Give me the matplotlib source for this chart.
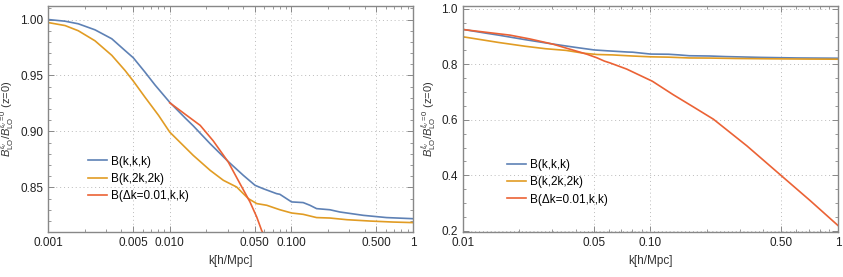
import numpy as np
import matplotlib
matplotlib.use("Agg")
import matplotlib.pyplot as plt
from matplotlib.ticker import FixedLocator, FixedFormatter, MultipleLocator

plt.rcParams['font.family'] = ['Liberation Sans', 'DejaVu Sans']
plt.rcParams['mathtext.fontset'] = 'custom'
plt.rcParams['mathtext.rm'] = 'Liberation Sans'
plt.rcParams['mathtext.it'] = 'Liberation Sans:italic'

# B(k,k,k) ratio
k_eq = [0.001, 0.00138, 0.00177, 0.00243, 0.00334, 0.00429, 0.00502, 0.00626,
        0.00757, 0.01, 0.0134, 0.0156, 0.0215, 0.0303, 0.0403, 0.0503, 0.0587,
        0.0755, 0.0804, 0.1003, 0.125, 0.142, 0.161, 0.207, 0.25, 0.39, 0.605, 1.0]
b_eq = [1.000, 0.9985, 0.9962, 0.9908, 0.9828, 0.9723, 0.9658, 0.953,
        0.9415, 0.926, 0.912, 0.905, 0.889, 0.873, 0.8607, 0.8518, 0.8488,
        0.8444, 0.8438, 0.837, 0.8364, 0.834, 0.831, 0.830, 0.828, 0.825, 0.823, 0.822]

# B(k,2k,2k)
k_iso = [0.001, 0.00138, 0.00177, 0.00243, 0.00334, 0.00429, 0.00502, 0.00626,
         0.0081, 0.01, 0.0156, 0.0215, 0.0276, 0.0355, 0.0442, 0.0519, 0.0627,
         0.0755, 0.0804, 0.1003, 0.125, 0.161, 0.207, 0.286, 0.443, 0.687, 1.0]
b_iso = [0.9973, 0.9946, 0.990, 0.981, 0.968, 0.9545, 0.945, 0.9306,
         0.9143, 0.8994, 0.8786, 0.8652, 0.8563, 0.8503, 0.840, 0.8355, 0.834,
         0.831, 0.830, 0.8271, 0.8259, 0.823, 0.8226, 0.8211, 0.8199, 0.819, 0.8185]

# B(dk=0.01,k,k)
k_sq = [0.01, 0.0138, 0.0178, 0.0228, 0.0303, 0.0378, 0.0457, 0.0519, 0.0569,
        0.061, 0.0747, 0.1025, 0.132, 0.169, 0.217, 0.327, 0.50, 0.71, 1.0]
b_sq = [0.9256, 0.9143, 0.9054, 0.8915, 0.8726, 0.8533, 0.8369, 0.8235, 0.8116,
        0.805, 0.783, 0.739, 0.691, 0.647, 0.602, 0.506, 0.398, 0.309, 0.219]

labels = ['B(k,k,k)', 'B(k,2k,2k)', 'B(\u0394k=0.01,k,k)']
colors = ['#5E81B5', '#E19C24', '#EB6235']

left_ticks = [0.001, 0.005, 0.01, 0.05, 0.1, 0.5, 1]
left_ticklabels = ['0.001', '0.005', '0.010', '0.050', '0.100', '0.500', '1']
right_ticks = [0.01, 0.05, 0.1, 0.5, 1]
right_ticklabels = ['0.01', '0.05', '0.10', '0.50', '1']

ylab = r'$B^{\ell_\nu}_{\mathrm{LO}}/B^{\ell_\nu=0}_{\mathrm{LO}}$ (z=0)'

fig = plt.figure(figsize=(8.43, 2.77), dpi=100)
ax1 = fig.add_axes([0.057, 0.162, 0.433, 0.816])
ax2 = fig.add_axes([0.549, 0.162, 0.445, 0.816])


def style(ax, xt, xtl, ymaj, ymin):
    ax.set_xscale('log')
    ax.xaxis.set_major_locator(FixedLocator(xt))
    ax.xaxis.set_major_formatter(FixedFormatter(xtl))
    ax.yaxis.set_major_locator(MultipleLocator(ymaj))
    ax.yaxis.set_minor_locator(MultipleLocator(ymin))
    ax.tick_params(which='both', direction='in', top=True, right=True,
                   color='#888888', labelsize=8.5, labelcolor='#222222')
    ax.tick_params(which='major', length=4, width=0.7)
    ax.tick_params(which='minor', length=2, width=0.6)
    for s in ax.spines.values():
        s.set_color('#888888')
        s.set_linewidth(1.0)
    ax.grid(True, which='major', ls=(0, (1, 3)), color='#bbbbbb', lw=0.7)
    ax.set_xlabel('k[h/Mpc]', fontsize=8.5, color='#333333', labelpad=4)
    ax.set_ylabel(ylab, fontsize=8, color='#333333', labelpad=2)


for ax in (ax1, ax2):
    ax.plot(k_eq, b_eq, color=colors[0], lw=1.2, label=labels[0])
    ax.plot(k_iso, b_iso, color=colors[1], lw=1.2, label=labels[1])
    ax.plot(k_sq, b_sq, color=colors[2], lw=1.2, label=labels[2])

ax1.set_xlim(0.001, 1)
ax1.set_ylim(0.810, 1.012)
style(ax1, left_ticks, left_ticklabels, 0.05, 0.01)
ax1.yaxis.set_major_formatter(plt.FormatStrFormatter('%.2f'))
ax1.legend(loc='upper left', bbox_to_anchor=(0.094, 0.365), frameon=False,
           fontsize=8.5, handlelength=1.6, handletextpad=0.35,
           labelspacing=0.45, borderpad=0)

ax2.set_xlim(0.01, 1)
ax2.set_ylim(0.195, 1.01)
style(ax2, right_ticks, right_ticklabels, 0.2, 0.05)
ax2.yaxis.set_major_formatter(plt.FormatStrFormatter('%.1f'))
ax2.legend(loc='upper left', bbox_to_anchor=(0.103, 0.35), frameon=False,
           fontsize=8.5, handlelength=1.6, handletextpad=0.35,
           labelspacing=0.45, borderpad=0)

fig.savefig('out.png', dpi=100)
